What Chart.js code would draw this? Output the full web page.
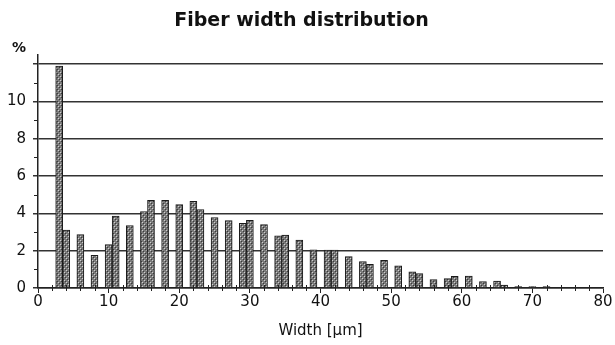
<!DOCTYPE html>
<html>
<head>
<meta charset="utf-8">
<title>Fiber width distribution</title>
<script src="https://cdn.jsdelivr.net/npm/chart.js@4.4.1/dist/chart.umd.min.js"></script>
<style>
  html, body { margin: 0; padding: 0; background: #ffffff; }
  canvas { display: block; }
</style>
</head>
<body>
<canvas id="chart" width="615" height="345"></canvas>
<script>
// Fiber width classes (µm) and share of fibers in each class (%)
const widthClasses = [3, 4, 6, 8, 10, 11, 13, 15, 16, 18, 20, 22, 23, 25, 27, 29, 30, 32, 34, 35,
  37, 39, 41, 42, 44, 46, 47, 49, 51, 53, 54, 56, 58, 59, 61, 63, 65, 66, 68, 70, 72];
const sharePercent = [11.9, 3.1, 2.87, 1.75, 2.33, 3.85, 3.35, 4.1, 4.7, 4.7, 4.47, 4.65, 4.2, 3.78, 3.62, 3.46, 3.63, 3.4, 2.8, 2.83,
  2.57, 2.05, 2.03, 2.03, 1.68, 1.41, 1.27, 1.48, 1.19, 0.87, 0.77, 0.45, 0.5, 0.63, 0.64, 0.34, 0.37, 0.15, 0.08, 0.08, 0.08];

// Axis ticks
const xMajorTicks = [0, 10, 20, 30, 40, 50, 60, 70, 80];
const xMinorTicks = [2, 4, 6, 8, 12, 14, 16, 18, 22, 24, 26, 28, 32, 34, 36, 38, 42, 44, 46, 48,
  52, 54, 56, 58, 62, 64, 66, 68, 72, 74, 76, 78];
const yMajorTicks = [0, 2, 4, 6, 8, 10, 12];
const yTickLabels = ['0', '2', '4', '6', '8', '10', ''];
const yMinorTicks = [1, 3, 5, 7, 9, 11];

const FONT = '"DejaVu Sans", "Liberation Sans", Arial, sans-serif';
const INK = '#111111';

// Stippled grey fill used for the bars
function makeStipple() {
  const c = document.createElement('canvas');
  c.width = 4; c.height = 4;
  const g = c.getContext('2d');
  g.fillStyle = '#7a7a7a';
  g.fillRect(0, 0, 4, 4);
  g.fillStyle = '#cfcfcf';
  g.fillRect(0, 0, 1, 1);
  g.fillRect(2, 2, 1, 1);
  g.fillStyle = '#3a3a3a';
  g.fillRect(1, 1, 1, 1);
  g.fillRect(3, 3, 1, 1);
  return g.createPattern(c, 'repeat');
}

// Minor tick marks on both axes and the "%" unit above the value axis
const axisExtras = {
  id: 'axisExtras',
  afterDraw(chart) {
    const { ctx } = chart;
    const x = chart.scales.x, y = chart.scales.y;
    ctx.save();
    ctx.strokeStyle = '#222222';
    ctx.lineWidth = 1;
    ctx.beginPath();
    xMinorTicks.forEach(v => {
      const px = Math.round(x.getPixelForValue(v)) + 0.5;
      ctx.moveTo(px, y.bottom - 3);
      ctx.lineTo(px, y.bottom + 3);
    });
    yMinorTicks.forEach(v => {
      const py = Math.round(y.getPixelForValue(v)) + 0.5;
      ctx.moveTo(x.left - 4, py);
      ctx.lineTo(x.left, py);
    });
    ctx.stroke();
    ctx.fillStyle = INK;
    ctx.font = 'bold 14px ' + FONT;
    ctx.textAlign = 'center';
    ctx.textBaseline = 'middle';
    ctx.fillText('%', x.left - 19, y.top - 6);
    ctx.restore();
  }
};

new Chart(document.getElementById('chart'), {
  type: 'bar',
  data: {
    datasets: [{
      data: widthClasses.map((w, i) => ({ x: w, y: sharePercent[i] })),
      backgroundColor: makeStipple(),
      borderColor: '#1a1a1a',
      borderWidth: 1,
      barThickness: 7
    }]
  },
  options: {
    responsive: false,
    devicePixelRatio: 1,
    animation: false,
    layout: { padding: { top: 0, right: 12, bottom: 0, left: 0 } },
    plugins: {
      legend: { display: false },
      tooltip: { enabled: false },
      title: {
        display: true,
        text: 'Fiber width distribution',
        color: INK,
        font: { family: FONT, size: 19, weight: 'bold' },
        padding: { top: 10, bottom: 22 }
      }
    },
    scales: {
      x: {
        type: 'linear',
        min: 0,
        max: 80,
        offset: false,
        afterBuildTicks: s => { s.ticks = xMajorTicks.map(v => ({ value: v })); },
        afterFit: s => { s.height = 57; },
        grid: { display: true, drawOnChartArea: false, offset: false, tickLength: 5, color: '#222222', lineWidth: 1 },
        border: { display: true, color: '#222222', width: 1.5 },
        ticks: { color: INK, font: { family: FONT, size: 15 }, padding: 0, maxRotation: 0 },
        title: {
          display: true,
          text: 'Width [µm]',
          color: INK,
          font: { family: FONT, size: 15 },
          padding: { top: 0, bottom: 5 }
        }
      },
      y: {
        min: 0,
        max: 12.5,
        afterBuildTicks: s => { s.ticks = yMajorTicks.map(v => ({ value: v })); },
        afterFit: s => { s.width = 38; },
        grid: { color: '#333333', lineWidth: 1.5, tickLength: 5 },
        border: { display: true, color: '#222222', width: 1.5 },
        ticks: {
          color: INK,
          font: { family: FONT, size: 15 },
          padding: 7,
          callback: (v, i) => yTickLabels[i]
        }
      }
    }
  },
  plugins: [axisExtras]
});
</script>
</body>
</html>
